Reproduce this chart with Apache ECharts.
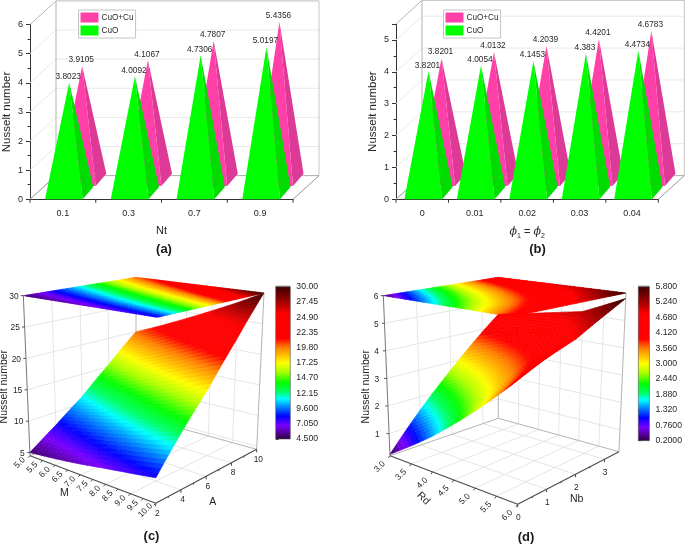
<!DOCTYPE html>
<html>
<head>
<meta charset="utf-8">
<style>html,body{margin:0;padding:0;background:#fff}#chart{width:685px;height:545px}</style>
<script src="https://cdn.jsdelivr.net/npm/echarts@6/dist/echarts.min.js"></script>
</head>
<body>
<div id="chart"></div>
<script>
// ---------- data ----------
const ntCategories = ['0.1', '0.3', '0.7', '0.9'];
const cuoByNt = [3.8023, 4.0092, 4.7306, 5.0197];
const hybridByNt = [3.9105, 4.1067, 4.7807, 5.4356];

const phiCategories = ['0', '0.01', '0.02', '0.03', '0.04'];
const cuoByPhi = [3.8201, 4.0054, 4.1453, 4.383, 4.4734];
const hybridByPhi = [3.8201, 4.0132, 4.2039, 4.4201, 4.6783];

const mValues = [5, 6, 7, 8, 9, 10];
const aValues = [2, 4, 6, 8, 10];
const nuByMA = [
  [5.0, 7.9, 11.2, 15.4, 20.0],
  [5.5, 8.8, 12.4, 17.0, 21.9],
  [6.1, 9.8, 13.7, 18.6, 23.9],
  [6.8, 10.8, 15.0, 20.2, 25.9],
  [7.4, 11.8, 16.3, 21.9, 27.9],
  [8.0, 12.8, 17.6, 23.5, 30.0]
];
const mTicks = [5, 5.5, 6, 6.5, 7, 7.5, 8, 8.5, 9, 9.5, 10];
const aTicks = [2, 4, 6, 8, 10];
const nuTicksC = [5, 10, 15, 20, 25, 30];
const colorTicksC = [4.5, 7.05, 9.6, 12.15, 14.7, 17.25, 19.8, 22.35, 24.9, 27.45, 30];

const rdValues = [3, 4, 5, 6];
const nbValues = [0, 1, 2, 3, 3.5];
const nuByRdNb = [
  [0.25, 1.5, 2.7, 3.9, 4.48],
  [1.4, 2.4, 3.35, 4.3, 4.8],
  [2.65, 3.3, 4.0, 4.7, 5.1],
  [3.94, 4.4, 4.8, 5.45, 5.8]
];
const rdTicks = [3, 3.5, 4, 4.5, 5, 5.5, 6];
const nbTicks = [0, 1, 2, 3];
const nuTicksD = [1, 2, 3, 4, 5, 6];
const colorTicksD = [0.2, 0.76, 1.32, 1.88, 2.44, 3, 3.56, 4.12, 4.68, 5.24, 5.8];

// ---------- styles and layout ----------
const FONT = 'Liberation Sans';
const TXT = '#262626';
const GREEN = '#00ff00', GREEN_SIDE = '#00dc00';
const PINK = '#ff40a8', PINK_SIDE = '#dd3a98';
const palette = [
  [0, '#2a0038'], [0.03, '#4a0080'], [0.09, '#7a00ff'], [0.15, '#0000ff'], [0.21, '#0080ff'],
  [0.265, '#00ffff'], [0.31, '#00ff66'], [0.37, '#00ff00'], [0.44, '#aaff00'], [0.5, '#ffff00'],
  [0.6, '#ff7f00'], [0.66, '#ff0000'], [0.82, '#ff0000'], [0.92, '#8c0000'], [1, '#3c0000']
];
function hexToRgb(h) { return [1, 3, 5].map(i => parseInt(h.substr(i, 2), 16)); }
const paletteRgb = palette.map(p => [p[0], hexToRgb(p[1])]);
function colorAt(f) {
  f = Math.max(0, Math.min(1, f));
  for (let i = 1; i < paletteRgb.length; i++) {
    if (f <= paletteRgb[i][0]) {
      const a = paletteRgb[i - 1], b = paletteRgb[i], t = (f - a[0]) / (b[0] - a[0]);
      return 'rgb(' + [0, 1, 2].map(k => Math.round(a[1][k] + (b[1][k] - a[1][k]) * t)).join(',') + ')';
    }
  }
  return palette[palette.length - 1][1];
}

// pseudo-3D bar panels: offsets of the back wall and of each pyramid row from the front plane
const WALL = { x: 26, y: -23.7 };
const ROW_SIDE = { x: 10.6, y: -12.4 };
const ROW_SHIFT = { x: 13, y: -13.2 };
const BASE_W = 37.7;

function frameRender(tickVals) {
  return function (params, api) {
    const cs = params.coordSys;
    const L = cs.x, R = cs.x + cs.width, B = cs.y + cs.height, T = cs.y;
    const dx = WALL.x, dy = WALL.y;
    const ln = (x1, y1, x2, y2, c, w) => ({ type: 'line', silent: true, shape: { x1, y1, x2, y2 }, style: { stroke: c, lineWidth: w || 1, fill: null } });
    const out = [];
    tickVals.forEach(v => {
      const y = api.coord([0, v])[1];
      out.push(ln(L + dx, y + dy, R + dx, y + dy, '#e9e9e9', 1));
      out.push(ln(L, y, L + dx, y + dy, '#e9e9e9', 1));
    });
    out.push(ln(L + dx, B + dy, L + dx, T + dy, '#cfcfcf', 1.6));
    out.push(ln(R + dx, B + dy, R + dx, T + dy, '#c8c8c8', 1));
    out.push(ln(L + dx, T + dy, R + dx, T + dy, '#c8c8c8', 1.2));
    out.push(ln(L, T, L + dx, T + dy, '#b5b5b5', 1));
    out.push(ln(L + dx, B + dy, R + dx, B + dy, '#b0b0b0', 1));
    out.push(ln(L, B, L + dx, B + dy, '#999', 1));
    out.push(ln(R, B, R + dx, B + dy, '#999', 1));
    const n = Math.round(cs.width / api.size([1, 0])[0]);
    for (let i = 0; i <= n; i++) {
      const x = L + cs.width * i / n;
      out.push(ln(x, B, x, B + 3.5, '#333', 1));
    }
    return { type: 'group', children: out };
  };
}

function pyramidRender(rowShift, front, side) {
  return function (params, api) {
    const i = api.value(0), v = api.value(1);
    const c = api.coord([i, 0]);
    const x0 = c[0] + 1 + rowShift.x - BASE_W / 2, x1 = x0 + BASE_W, y0 = c[1] + rowShift.y;
    const top = api.coord([i, v])[1];
    const ax = (x0 + x1) / 2 + ROW_SIDE.x / 2;
    const ay = top + rowShift.y + ROW_SIDE.y / 2;
    return {
      type: 'group',
      children: [
        { type: 'polygon', shape: { points: [[x1, y0], [x1 + ROW_SIDE.x, y0 + ROW_SIDE.y], [ax, ay]] }, style: { fill: side } },
        { type: 'polygon', shape: { points: [[x0, y0], [x1, y0], [ax, ay]] }, style: { fill: front } },
        { type: 'text', silent: true, x: ax - 1, y: ay - 2, style: { text: String(v), x: 0, y: 0, align: 'center', verticalAlign: 'bottom', font: '8.3px "' + FONT + '"', fill: TXT } }
      ]
    };
  };
}

// pseudo-3D surface boxes: eight screen corners (panel units) of each axis box
const boxC = {
  xr: [5, 10], yr: [2, 10], zr: [4.5, 30],
  floor: [[90, 572], [467, 715], [408, 453], [770, 553]],
  top: [[70, 92], [472, 157], [408, 37], [792, 84]],
  xLabel: { dx: -31, dy: 21 }, yLabel: { dx: 5, dy: 30 },
  xTick: { dx: -6, dy: 6 }, yTick: { dx: 0, dy: 9 },
  zLabelGap: [-16, -14],
  zName: { x: 12, y: 365 }, xName: { t: 'M', x: 193, y: 685, r: 0 }, yName: { t: 'A', x: 638, y: 712, r: 0 },
  yMinor: [3, 5, 7, 9], xLines: [6, 7, 8, 9], yLines: [4, 6, 8]
};
const boxD = {
  xr: [3, 6], yr: [0, 3.5], zr: [0.2, 6],
  floor: [[135, 572], [518, 718], [460, 460], [822, 560]],
  top: [[115, 92], [500, 155], [460, 37], [843, 84]],
  xLabel: { dx: -31, dy: 33 }, yLabel: { dx: 2, dy: 40 },
  xTick: { dx: -5, dy: 7 }, yTick: { dx: 0, dy: 9 },
  zLabelGap: [-30, -15],
  zName: { x: 62, y: 365 }, xName: { t: 'Rd', x: 235, y: 700, r: -Math.PI / 4 }, yName: { t: 'Nb', x: 695, y: 702, r: 0 },
  yMinor: [0.5, 1.5, 2.5], xLines: [3.5, 4, 4.5, 5, 5.5], yLines: [1, 2, 3]
};
function mix(a, b, t) { return [a[0] + (b[0] - a[0]) * t, a[1] + (b[1] - a[1]) * t]; }
function project(box, x, y, z) {
  const u = (x - box.xr[0]) / (box.xr[1] - box.xr[0]);
  const v = (y - box.yr[0]) / (box.yr[1] - box.yr[0]);
  const w = (z - box.zr[0]) / (box.zr[1] - box.zr[0]);
  const f = mix(mix(box.floor[0], box.floor[1], u), mix(box.floor[2], box.floor[3], u), v);
  const t = mix(mix(box.top[0], box.top[1], u), mix(box.top[2], box.top[3], u), v);
  return mix(f, t, w);
}

function boxRender(box, xTicks, yTicks, zTicks) {
  return function (params, api) {
    const P = (x, y, z) => api.coord(project(box, x, y, z));
    const [x0, x1] = box.xr, [y0, y1] = box.yr, [z0, z1] = box.zr;
    const ln = (a, b, c, w) => ({ type: 'line', silent: true, shape: { x1: a[0], y1: a[1], x2: b[0], y2: b[1] }, style: { stroke: c, lineWidth: w || 1, fill: null } });
    const txt = (s, at, o) => ({ type: 'text', silent: true, x: at[0], y: at[1], rotation: (o && o.r) || 0, style: { text: s, x: 0, y: 0, align: (o && o.align) || 'center', verticalAlign: 'middle', font: ((o && o.size) || 8.4) + 'px "' + FONT + '"', fill: TXT } });
    const GRID = '#e6e6e6', EDGE = '#b5b5b5', AX = '#4a4a4a';
    const out = [];
    box.xLines.forEach(x => {
      out.push(ln(P(x, y0, z0), P(x, y1, z0), GRID));
      out.push(ln(P(x, y1, z0), P(x, y1, z1), GRID));
    });
    box.yLines.forEach(y => {
      out.push(ln(P(x0, y, z0), P(x1, y, z0), GRID));
      out.push(ln(P(x0, y, z0), P(x0, y, z1), GRID));
    });
    zTicks.forEach(z => {
      if (z >= z1) return;
      out.push(ln(P(x0, y0, z), P(x0, y1, z), GRID));
      out.push(ln(P(x0, y1, z), P(x1, y1, z), GRID));
    });
    out.push(ln(P(x0, y1, z0), P(x0, y1, z1), EDGE));
    out.push(ln(P(x1, y1, z0), P(x1, y1, z1), EDGE));
    out.push(ln(P(x0, y1, z0), P(x1, y1, z0), EDGE));
    out.push(ln(P(x0, y0, z0), P(x0, y1, z0), EDGE));
    out.push(ln(P(x0, y0, z0), P(x1, y0, z0), AX, 1.1));
    out.push(ln(P(x1, y0, z0), P(x1, y1, z0), AX, 1.1));
    out.push(ln(P(x0, y0, z0), P(x0, y0, z1), '#777'));
    // x ticks and labels
    xTicks.forEach(x => {
      const p = project(box, x, y0, z0);
      out.push(ln(api.coord(p), api.coord([p[0] + box.xTick.dx, p[1] + box.xTick.dy]), AX));
      out.push(txt(x.toFixed(1), api.coord([p[0] + box.xLabel.dx, p[1] + box.xLabel.dy]), { r: Math.PI / 4 }));
    });
    // y ticks and labels
    yTicks.forEach(y => {
      const p = project(box, x1, y, z0);
      out.push(ln(api.coord(p), api.coord([p[0] + box.yTick.dx, p[1] + box.yTick.dy]), AX));
      out.push(txt(String(y), api.coord([p[0] + box.yLabel.dx, p[1] + box.yLabel.dy])));
    });
    box.yMinor.forEach(y => {
      const p = project(box, x1, y, z0);
      out.push(ln(api.coord(p), api.coord([p[0] + box.yTick.dx / 2, p[1] + box.yTick.dy / 2]), AX));
    });
    // z ticks and labels
    zTicks.forEach(z => {
      const p = project(box, x0, y0, z);
      const f = (z - z0) / (z1 - z0);
      const gap = box.zLabelGap[0] + (box.zLabelGap[1] - box.zLabelGap[0]) * f;
      out.push(ln(api.coord(p), api.coord([p[0] - 8, p[1]]), '#555'));
      out.push(txt(String(z), api.coord([p[0] + gap, p[1] + 3]), { align: 'right' }));
    });
    out.push(txt('Nusselt number', api.coord([box.zName.x, box.zName.y]), { r: Math.PI / 2, size: 10.5 }));
    out.push(txt(box.xName.t, api.coord([box.xName.x, box.xName.y]), { r: box.xName.r, size: 10.5 }));
    out.push(txt(box.yName.t, api.coord([box.yName.x, box.yName.y]), { size: 10.5 }));
    return { type: 'group', children: out };
  };
}

function cellData(xs, ys) {
  const d = [];
  for (let i = 0; i < xs.length - 1; i++) for (let j = 0; j < ys.length - 1; j++) d.push([i, j]);
  return d;
}
function surfaceRender(box, xs, ys, table, colorMin, colorMax, flatTop) {
  const N = 10;
  return function (params, api) {
    const i = api.value(0), j = api.value(1);
    const z00 = table[i][j], z10 = table[i + 1][j], z01 = table[i][j + 1], z11 = table[i + 1][j + 1];
    const at = (a, b) => {
      const z = (z00 * (1 - a) + z10 * a) * (1 - b) + (z01 * (1 - a) + z11 * a) * b;
      const x = xs[i] + (xs[i + 1] - xs[i]) * a, y = ys[j] + (ys[j + 1] - ys[j]) * b;
      return { z, p: api.coord(project(box, x, y, flatTop ? box.zr[1] : z)) };
    };
    const out = [];
    for (let a = 0; a < N; a++) {
      for (let b = 0; b < N; b++) {
        const q = [at(a / N, b / N), at((a + 1) / N, b / N), at((a + 1) / N, (b + 1) / N), at(a / N, (b + 1) / N)];
        const zm = (q[0].z + q[1].z + q[2].z + q[3].z) / 4;
        const col = colorAt((zm - colorMin) / (colorMax - colorMin));
        out.push({ type: 'polygon', silent: true, shape: { points: q.map(e => e.p) }, style: { fill: col, stroke: col, lineWidth: 0.6 } });
      }
    }
    return { type: 'group', children: out };
  };
}

function colorbarRender(min, max) {
  return function (params, api) {
    const top = api.coord([0, max]), bot = api.coord([0, min]);
    const cs = params.coordSys;
    const stops = palette.map(p => ({ offset: 1 - p[0], color: p[1] })).reverse();
    return {
      type: 'group',
      children: [
        { type: 'rect', silent: true, shape: { x: cs.x, y: top[1] - 1.5, width: cs.width, height: 2 }, style: { fill: '#c8c8c8' } },
        { type: 'rect', silent: true, shape: { x: cs.x, y: top[1], width: cs.width, height: bot[1] - top[1] },
          style: { fill: { type: 'linear', x: 0, y: 0, x2: 0, y2: 1, colorStops: stops }, stroke: '#555', lineWidth: 0.6 } }
      ]
    };
  };
}

// ---------- option ----------
const tickFont = { fontFamily: FONT, fontSize: 9, color: TXT };
function barXAxis(gridIndex, cats, name) {
  return {
    type: 'category', gridIndex, data: cats, name, nameLocation: 'middle', nameGap: 26,
    nameTextStyle: { fontFamily: FONT, fontSize: 11, color: TXT, rich: {
      i: { fontFamily: 'DejaVu Serif', fontStyle: 'italic', fontSize: 11, color: TXT },
      s: { fontFamily: FONT, fontSize: 7, color: TXT, padding: [7, 0, 0, 0] },
      n: { fontFamily: FONT, fontSize: 11, color: TXT }
    } },
    axisLine: { onZero: false, lineStyle: { color: '#333', width: 1 } },
    axisTick: { alignWithLabel: true, length: 5, lineStyle: { color: '#333' } },
    axisLabel: { ...tickFont, margin: 10 },
    splitLine: { show: false }
  };
}
function barYAxis(gridIndex, max) {
  return {
    type: 'value', gridIndex, min: 0, max, interval: 1, name: 'Nusselt number', nameLocation: 'middle', nameGap: 17,
    nameTextStyle: { fontFamily: FONT, fontSize: 11.5, color: TXT },
    axisLine: { show: true, lineStyle: { color: '#333', width: 1 } },
    axisTick: { show: true, length: 4, lineStyle: { color: '#333' } },
    minorTick: { show: true, splitNumber: 2, length: 2.5, lineStyle: { color: '#333' } },
    axisLabel: { ...tickFont, margin: 7, showMaxLabel: max === 6 },
    splitLine: { show: false }, minorSplitLine: { show: false }
  };
}
function hiddenAxes(gridIndex) {
  return [
    { type: 'value', gridIndex, min: 0, max: 1020, show: false },
    { type: 'value', gridIndex, min: 0, max: 840, inverse: true, show: false }
  ];
}
function colorAxis(gridIndex, min, max, ticks) {
  return [
    { type: 'value', gridIndex, min: 0, max: 1, show: false },
    { type: 'value', gridIndex, min, max, position: 'right', splitLine: { show: false },
      axisLine: { show: false },
      axisTick: { show: true, length: 3, customValues: ticks, lineStyle: { color: '#444' } },
      axisLabel: { fontFamily: FONT, fontSize: 8.7, color: TXT, margin: 6, customValues: ticks, formatter: v => v.toPrecision(4) } }
  ];
}
const legendBase = {
  orient: 'vertical', top: 10, padding: [2.5, 2, 2.5, 2], itemGap: 3, itemWidth: 18, itemHeight: 10,
  icon: 'rect', selectedMode: false, borderColor: '#c4c4c4', borderWidth: 1, backgroundColor: '#fff',
  data: ['CuO+Cu', 'CuO'], textStyle: { fontFamily: FONT, fontSize: 8.2, color: TXT, padding: [0, 0, 0, -2] }
};
const pyramid = (name, x, y, cats, vals, shift, f, s, z) => ({
  type: 'custom', name, xAxisIndex: x, yAxisIndex: y, z, itemStyle: { color: f },
  data: cats.map((c, i) => [c, vals[i]]), encode: { x: 0, y: 1 },
  renderItem: pyramidRender(shift, f, s)
});
const NO_SHIFT = { x: 0, y: 0 };

const xAxes = [
  barXAxis(0, ntCategories, 'Nt'),
  barXAxis(1, phiCategories, '{i|\u03d5}{s|1}{n| = }{i|\u03d5}{s|2}'),
  ...[hiddenAxes(2)[0], hiddenAxes(3)[0]],
  colorAxis(4, 4.5, 30, colorTicksC)[0],
  colorAxis(5, 0.2, 5.8, colorTicksD)[0]
];
const yAxes = [
  barYAxis(0, 6),
  barYAxis(1, 5.5),
  ...[hiddenAxes(2)[1], hiddenAxes(3)[1]],
  colorAxis(4, 4.5, 30, colorTicksC)[1],
  colorAxis(5, 0.2, 5.8, colorTicksD)[1]
];

const option = {
  backgroundColor: '#fff',
  animation: false,
  title: [
    ['(a)', 164, 243], ['(b)', 537.5, 243], ['(c)', 151.5, 530], ['(d)', 526, 531]
  ].map(t => ({ text: t[0], left: t[1], top: t[2], textAlign: 'center', padding: 0,
    textStyle: { fontFamily: FONT, fontSize: 13, fontWeight: 'bold', color: '#1a1a1a' } })),
  legend: [
    { ...legendBase, left: 78.5 },
    { ...legendBase, left: 443.5 }
  ],
  grid: [
    { left: 30, top: 24.6, width: 263, height: 174.7 },
    { left: 396, top: 24, width: 262.3, height: 175.3 },
    { left: 0, top: 265, width: 340, height: 280 },
    { left: 345, top: 265, width: 340, height: 280 },
    { left: 275.7, top: 286.7, width: 14.6, height: 152.3 },
    { left: 638.3, top: 286.7, width: 15, height: 154 }
  ],
  xAxis: xAxes,
  yAxis: yAxes,
  series: [
    { type: 'custom', xAxisIndex: 0, yAxisIndex: 0, z: 1, data: [[0, 0]], renderItem: frameRender([0, 1, 2, 3, 4, 5]) },
    pyramid('CuO+Cu', 0, 0, ntCategories, hybridByNt, ROW_SHIFT, PINK, PINK_SIDE, 2),
    pyramid('CuO', 0, 0, ntCategories, cuoByNt, NO_SHIFT, GREEN, GREEN_SIDE, 3),

    { type: 'custom', xAxisIndex: 1, yAxisIndex: 1, z: 1, data: [[0, 0]], renderItem: frameRender([0, 1, 2, 3, 4, 5]) },
    pyramid('CuO+Cu', 1, 1, phiCategories, hybridByPhi, ROW_SHIFT, PINK, PINK_SIDE, 2),
    pyramid('CuO', 1, 1, phiCategories, cuoByPhi, NO_SHIFT, GREEN, GREEN_SIDE, 3),

    { type: 'custom', xAxisIndex: 2, yAxisIndex: 2, z: 1, data: [[0, 0]], renderItem: boxRender(boxC, mTicks, aTicks, nuTicksC) },
    { type: 'custom', xAxisIndex: 2, yAxisIndex: 2, z: 2, data: cellData(mValues, aValues), renderItem: surfaceRender(boxC, mValues, aValues, nuByMA, 4.5, 30, true) },
    { type: 'custom', xAxisIndex: 2, yAxisIndex: 2, z: 3, data: cellData(mValues, aValues), renderItem: surfaceRender(boxC, mValues, aValues, nuByMA, 4.5, 30, false) },

    { type: 'custom', xAxisIndex: 3, yAxisIndex: 3, z: 1, data: [[0, 0]], renderItem: boxRender(boxD, rdTicks, nbTicks, nuTicksD) },
    { type: 'custom', xAxisIndex: 3, yAxisIndex: 3, z: 2, data: cellData(rdValues, nbValues), renderItem: surfaceRender(boxD, rdValues, nbValues, nuByRdNb, 0.2, 5.8, true) },
    { type: 'custom', xAxisIndex: 3, yAxisIndex: 3, z: 3, data: cellData(rdValues, nbValues), renderItem: surfaceRender(boxD, rdValues, nbValues, nuByRdNb, 0.2, 5.8, false) },

    { type: 'custom', xAxisIndex: 4, yAxisIndex: 4, data: [[0, 4.5]], renderItem: colorbarRender(4.5, 30) },
    { type: 'custom', xAxisIndex: 5, yAxisIndex: 5, data: [[0, 0.2]], renderItem: colorbarRender(0.2, 5.8) }
  ]
};
echarts.init(document.getElementById('chart'), null, { renderer: 'canvas' }).setOption(option);
</script>
</body>
</html>
